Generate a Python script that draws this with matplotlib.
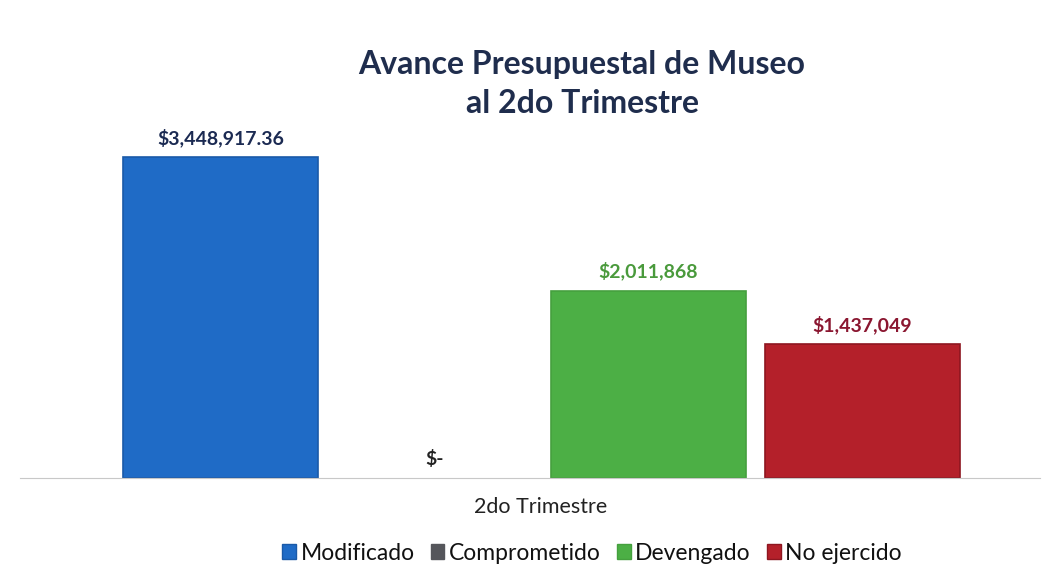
import matplotlib.pyplot as plt
from matplotlib.patches import Patch

# Data
series = ['Modificado', 'Comprometido', 'Devengado', 'No ejercido']
values = [3448917.36, 0, 2011868, 1437049]
labels = ['$3,448,917.36', '$-', '$2,011,868', '$1,437,049']
colors = ['#1f6bc6', '#55565b', '#4caf45', '#b4202a']
edges = ['#1a5aa8', '#55565b', '#45a03e', '#8e1620']
label_colors = ['#1b2a52', '#222222', '#4a9a3c', '#8a1630']
category = '2do Trimestre'

plt.rcParams['font.family'] = ['Lato', 'DejaVu Sans']

fig = plt.figure(figsize=(10.63, 5.77), dpi=100)
ax = fig.add_axes([20 / 1063, 1 - 478 / 577, 1020 / 1063, 378 / 577])

x = list(range(len(values)))
widths = [1.2 if v > 0 else 0 for v in values]
ax.bar(x, values, width=0.91, color=colors, edgecolor=edges, linewidth=widths)
ax.set_xlim(-0.937, 3.83)
ax.set_ylim(0, 3448917.36 * 378 / 321)

for xi, v, lab, c in zip(x, values, labels, label_colors):
    if v == 0:
        ax.text(xi, 110000, lab, ha='center', va='bottom', fontsize=14,
                fontweight='bold', color=c)
    else:
        ax.text(xi, v + 110000, lab, ha='center', va='bottom', fontsize=14,
                fontweight='bold', color=c)

for s in ['top', 'right', 'left']:
    ax.spines[s].set_visible(False)
ax.spines['bottom'].set_color('#c8c8c8')
ax.set_xticks([])
ax.set_yticks([])

fig.text(541 / 1063, 1 - 507 / 577, category, ha='center', va='center',
         fontsize=15.5, color='#222222')

fig.text(582 / 1063, 1 - 84 / 577, 'Avance Presupuestal de Museo\nal 2do Trimestre',
         ha='center', va='center', fontsize=23, fontweight='bold',
         color='#1f2d4d', linespacing=1.4)

handles = [Patch(facecolor=c, edgecolor=e) for c, e in zip(colors, edges)]
fig.legend(handles, series, loc='center', bbox_to_anchor=(592 / 1063, 1 - 553 / 577),
           ncol=4, frameon=False, fontsize=16.5, handlelength=0.6, handleheight=0.6,
           handletextpad=0.2, columnspacing=0.7, labelcolor='#111111')

fig.savefig('out.png', dpi=100)
